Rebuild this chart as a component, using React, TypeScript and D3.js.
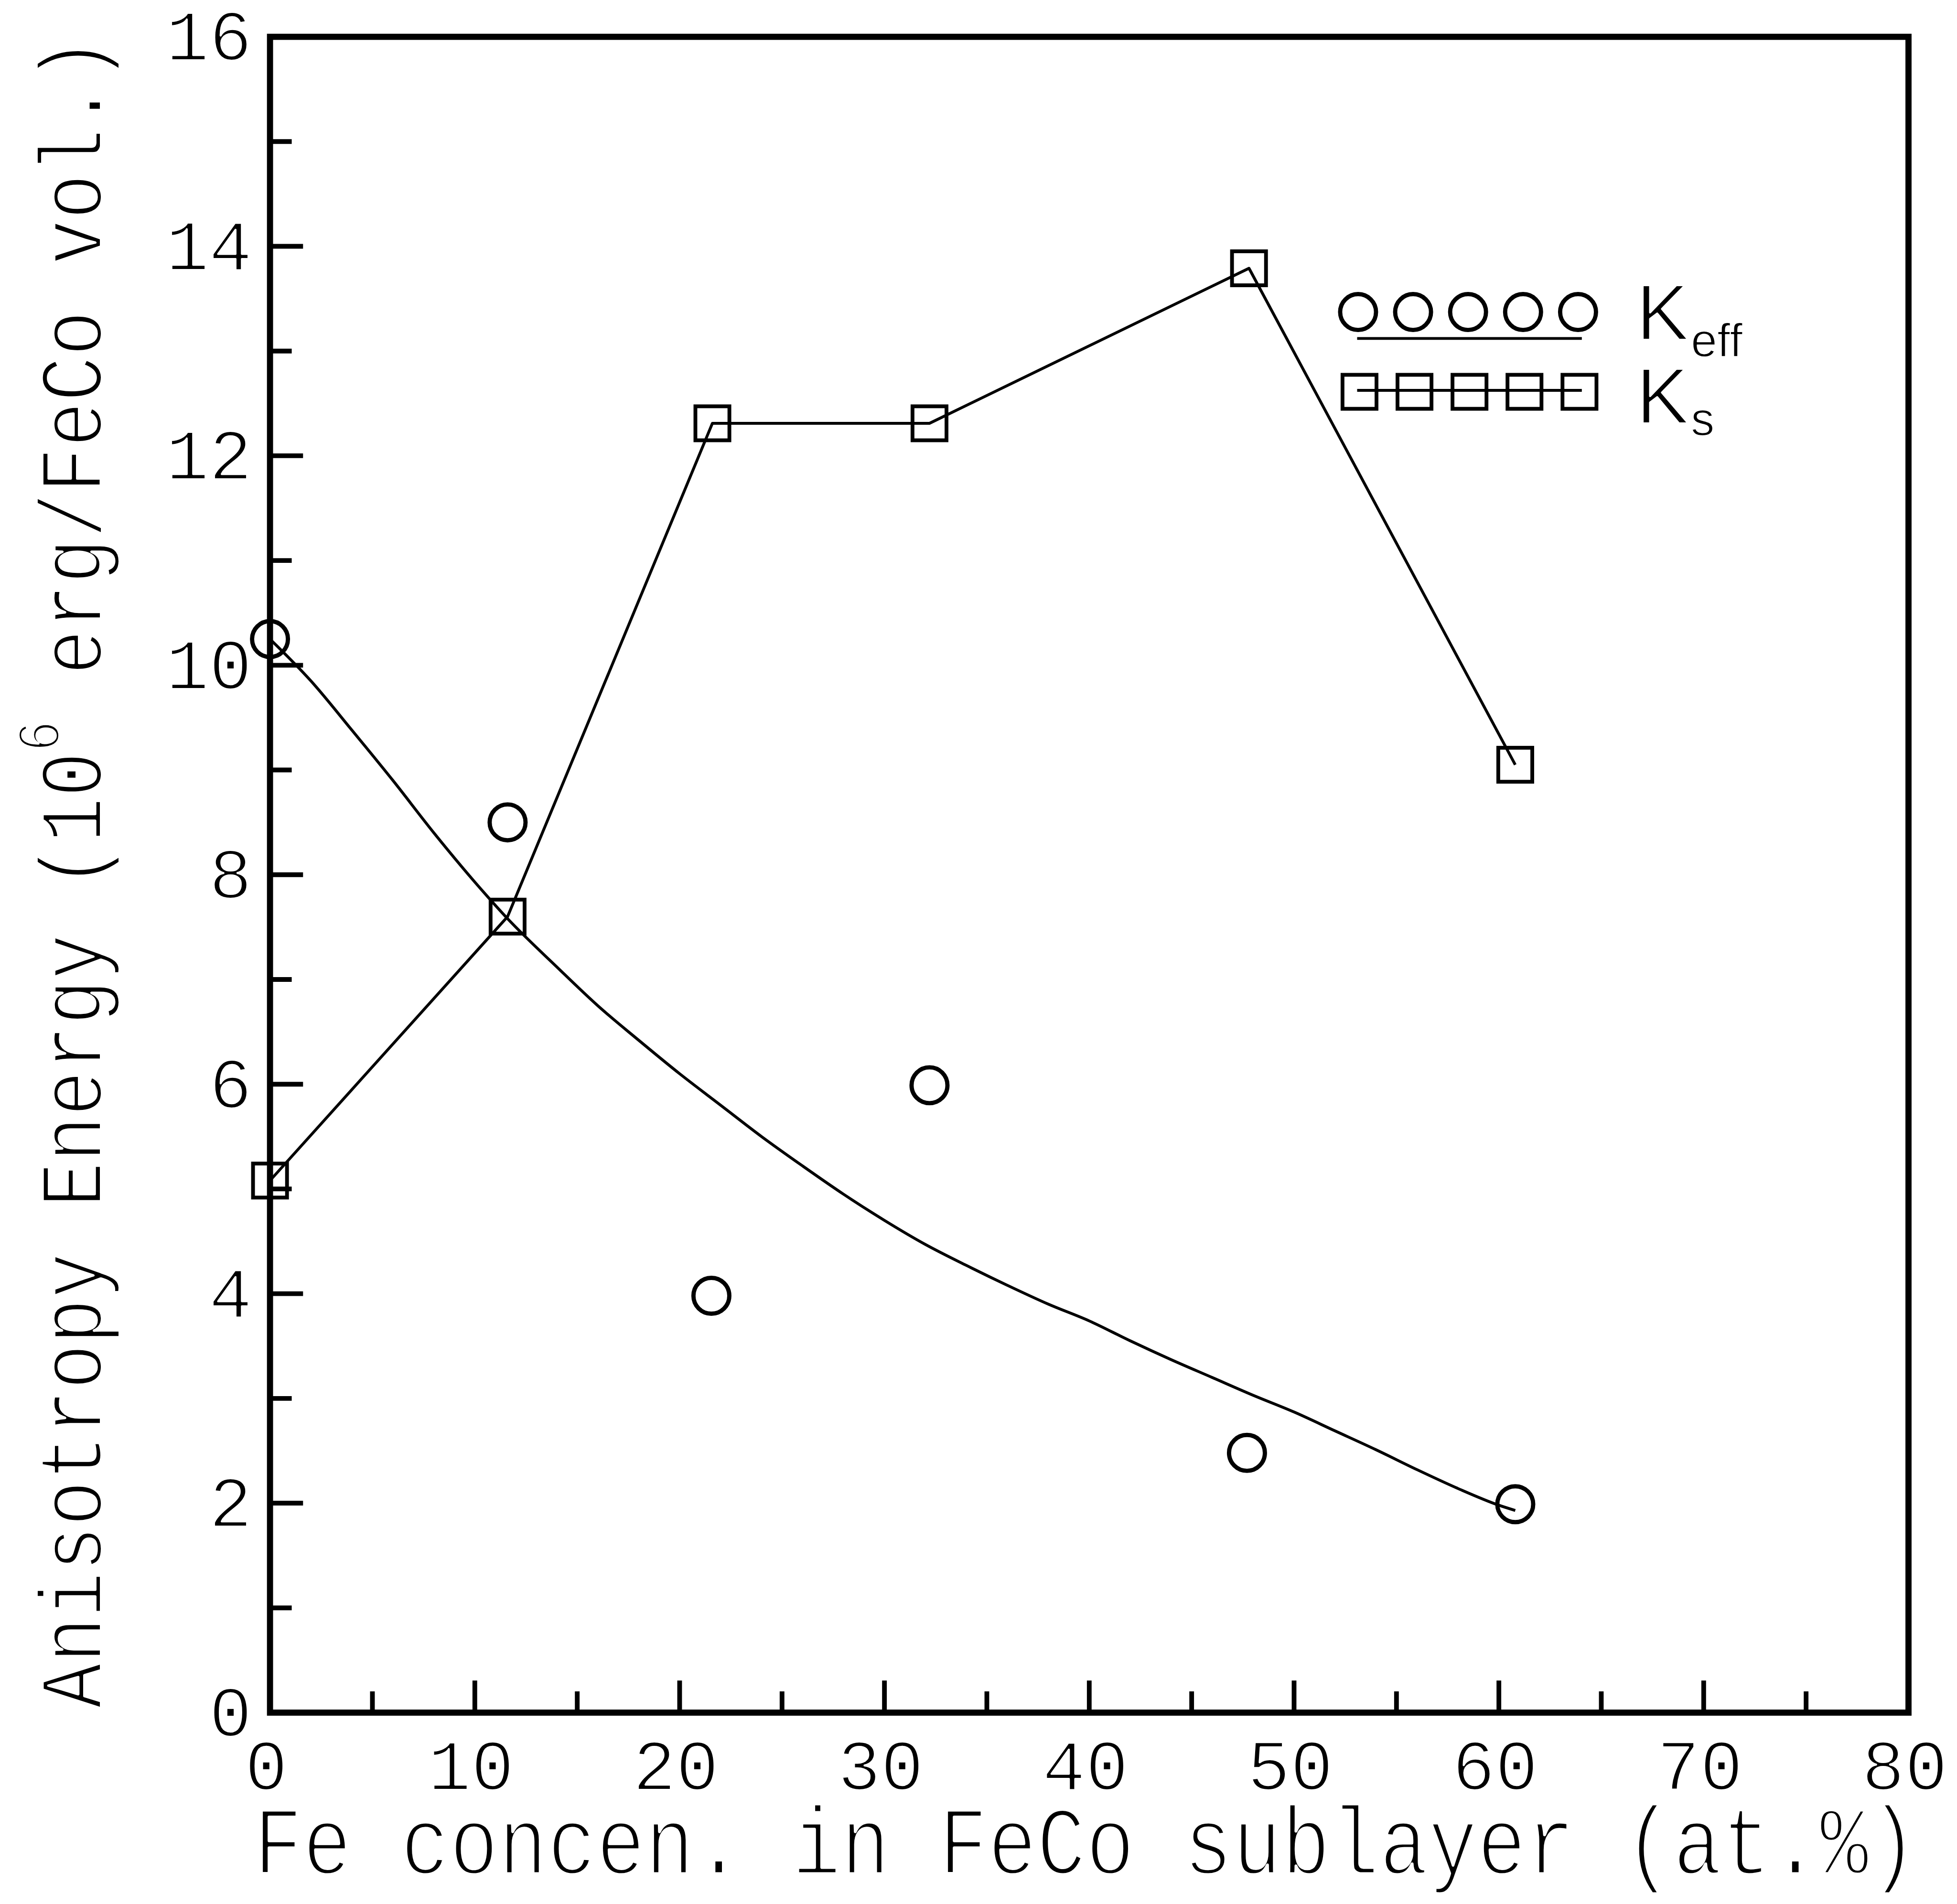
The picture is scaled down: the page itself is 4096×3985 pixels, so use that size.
import React, { useLayoutEffect, useRef, useState } from "react";
import * as d3 from "d3";

// Fe concentration in the FeCo sublayer (at.%) and the surface anisotropy Ks
const ksConc = [0, 11.6, 21.6, 32.2, 47.8, 60.8];
const ksValues = [5.08, 7.6, 12.31, 12.31, 13.79, 9.05];

// Effective anisotropy Keff measured points
const keffConc = [0, 11.6, 21.55, 32.2, 47.7, 60.8];
const keffValues = [10.25, 8.5, 3.98, 5.99, 2.48, 1.99];

// Smooth guide curve drawn through the Keff data
const keffFitConc = [0, 2, 4, 6, 8, 10, 11.6, 14, 16, 18, 20, 22, 24, 26, 28, 30, 32, 34, 36, 38, 40, 42, 44, 46, 48, 50, 52, 54, 56, 58, 60, 60.8];
const keffFitValues = [10.25, 9.85, 9.38, 8.9, 8.4, 7.93, 7.58, 7.12, 6.75, 6.42, 6.1, 5.8, 5.5, 5.22, 4.95, 4.7, 4.47, 4.27, 4.08, 3.9, 3.74, 3.55, 3.37, 3.2, 3.03, 2.87, 2.69, 2.51, 2.32, 2.14, 1.98, 1.93];

// Axis ticks and labels
const xMajorTicks = [0, 10, 20, 30, 40, 50, 60, 70, 80];
const xMinorTicks = [5, 15, 25, 35, 45, 55, 65, 75];
const xTickLabels = ["0", "10", "20", "30", "40", "50", "60", "70", "80"];
const yMajorTicks = [0, 2, 4, 6, 8, 10, 12, 14, 16];
const yMinorTicks = [1, 3, 5, 7, 9, 11, 13, 15];
const yTickLabels = ["0", "2", "4", "6", "8", "10", "12", "14", "16"];

const legendSubscripts = ["eff", "s"];

const SCALE = 0.988;
const FRAME = { left: 572, right: 4043, top: 78, bottom: 3628 };
const MONO = "'Liberation Mono', 'DejaVu Sans Mono', monospace";
const SANS = "'Liberation Sans', Arial, sans-serif";

// thin plotter-like lettering: a white outline trims the glyph strokes
const thin = (w: number) => ({ stroke: "#fff", strokeWidth: w, strokeLinejoin: "round" as const });

function StretchText(props: {
  cx: number;
  cy: number;
  length: number;
  rotate?: number;
  fontSize: number;
  trim: number;
  children: React.ReactNode;
}) {
  const { cx, cy, length, rotate = 0, fontSize, trim, children } = props;
  const ref = useRef<SVGTextElement>(null);
  const [k, setK] = useState(1);
  useLayoutEffect(() => {
    const measure = () => {
      const el = ref.current;
      if (!el) return;
      const w = el.getComputedTextLength();
      if (w > 0) setK(length / w);
    };
    measure();
    const f = (document as any).fonts;
    if (f && f.ready) f.ready.then(measure);
  }, [length]);
  return (
    <g transform={`translate(${cx},${cy}) rotate(${rotate}) scale(${k},1)`}>
      <text ref={ref} textAnchor="middle" fontFamily={MONO} fontSize={fontSize} fill="#000" {...thin(trim)}>
        {children}
      </text>
    </g>
  );
}

export default function App() {
  const x = d3.scaleLinear().domain([0, 80]).range([FRAME.left, FRAME.right]);
  const y = d3.scaleLinear().domain([0, 16]).range([FRAME.bottom, FRAME.top]);

  const ksLine = d3
    .line<number>()
    .x((_, i) => x(ksConc[i]))
    .y((d) => y(d))(ksValues) as string;

  const keffLine = d3
    .line<number>()
    .curve(d3.curveMonotoneX)
    .x((_, i) => x(keffFitConc[i]))
    .y((d) => y(d))(keffFitValues) as string;

  const sq = 72;
  const legendStep = 116.5;
  const legendIdx = d3.range(5);

  return (
    <svg
      width={4096}
      height={3985}
      style={{ position: "absolute", left: 0, top: 0, background: "#fff" }}
    >
      <rect x={0} y={0} width={4096} height={3985} fill="#fff" />
      <g transform={`scale(${SCALE})`}>
        {/* frame */}
        <rect
          x={FRAME.left}
          y={FRAME.top}
          width={FRAME.right - FRAME.left}
          height={FRAME.bottom - FRAME.top}
          fill="none"
          stroke="#000"
          strokeWidth={13}
        />

        {/* x ticks */}
        {xMajorTicks.map((t) => (
          <line key={"xM" + t} x1={x(t)} x2={x(t)} y1={FRAME.bottom} y2={FRAME.bottom - 68} stroke="#000" strokeWidth={10} />
        ))}
        {xMinorTicks.map((t) => (
          <line key={"xm" + t} x1={x(t)} x2={x(t)} y1={FRAME.bottom} y2={FRAME.bottom - 45} stroke="#000" strokeWidth={10} />
        ))}
        {/* y ticks */}
        {yMajorTicks.map((t) => (
          <line key={"yM" + t} x1={FRAME.left} x2={FRAME.left + 70} y1={y(t)} y2={y(t)} stroke="#000" strokeWidth={10} />
        ))}
        {yMinorTicks.map((t) => (
          <line key={"ym" + t} x1={FRAME.left} x2={FRAME.left + 46} y1={y(t)} y2={y(t)} stroke="#000" strokeWidth={10} />
        ))}

        {/* tick labels */}
        {xMajorTicks.map((t, i) => (
          <text key={"xl" + t} x={x(t) - 8} y={3792} textAnchor="middle" fontFamily={MONO} fontSize={152} fill="#000" {...thin(4)}>
            {xTickLabels[i]}
          </text>
        ))}
        {yMajorTicks.map((t, i) => (
          <text key={"yl" + t} x={534} y={y(t) + 50} textAnchor="end" fontFamily={MONO} fontSize={152} fill="#000" {...thin(4)}>
            {yTickLabels[i]}
          </text>
        ))}

        {/* axis titles */}
        <StretchText cx={2300} cy={3970} length={3525} fontSize={204} trim={7}>
          Fe concen. in FeCo sublayer (at.%)
        </StretchText>
        <StretchText cx={215} cy={1849} length={3540} rotate={-90} fontSize={190} trim={6}>
          <tspan>Anisotropy Energy (10</tspan>
          <tspan dy={-90} fontSize={130}>6</tspan>
          <tspan dy={90}> erg/FeCo vol.)</tspan>
        </StretchText>

        {/* data lines */}
        <path d={keffLine} fill="none" stroke="#000" strokeWidth={6} strokeLinejoin="round" />
        <path d={ksLine} fill="none" stroke="#000" strokeWidth={6} strokeLinejoin="round" />

        {/* markers */}
        {keffValues.map((v, i) => (
          <circle key={"kc" + i} cx={x(keffConc[i])} cy={y(v)} r={38} fill="none" stroke="#000" strokeWidth={9} />
        ))}
        {ksValues.map((v, i) => (
          <rect key={"ks" + i} x={x(ksConc[i]) - sq / 2} y={y(v) - sq / 2} width={sq} height={sq} fill="none" stroke="#000" strokeWidth={8} />
        ))}

        {/* legend */}
        <g>
          {legendIdx.map((i) => (
            <circle key={"lc" + i} cx={2877 + i * legendStep} cy={661} r={38} fill="none" stroke="#000" strokeWidth={9} />
          ))}
          <line x1={2875} x2={3351} y1={717} y2={717} stroke="#000" strokeWidth={6} />
          <line x1={2875} x2={3351} y1={827} y2={827} stroke="#000" strokeWidth={6} />
          {legendIdx.map((i) => (
            <rect key={"lsq" + i} x={2880 + i * legendStep - sq / 2} y={830 - sq / 2} width={sq} height={sq} fill="none" stroke="#000" strokeWidth={8} />
          ))}
          <text x={3466} y={720} fontFamily={SANS} fontSize={168} fill="#000" {...thin(4)}>K</text>
          <text x={3582} y={755} fontFamily={SANS} fontSize={100} fill="#000" {...thin(2)}>{legendSubscripts[0]}</text>
          <text x={3466} y={897} fontFamily={SANS} fontSize={168} fill="#000" {...thin(4)}>K</text>
          <text x={3582} y={922} fontFamily={SANS} fontSize={100} fill="#000" {...thin(2)}>{legendSubscripts[1]}</text>
        </g>
      </g>
    </svg>
  );
}
